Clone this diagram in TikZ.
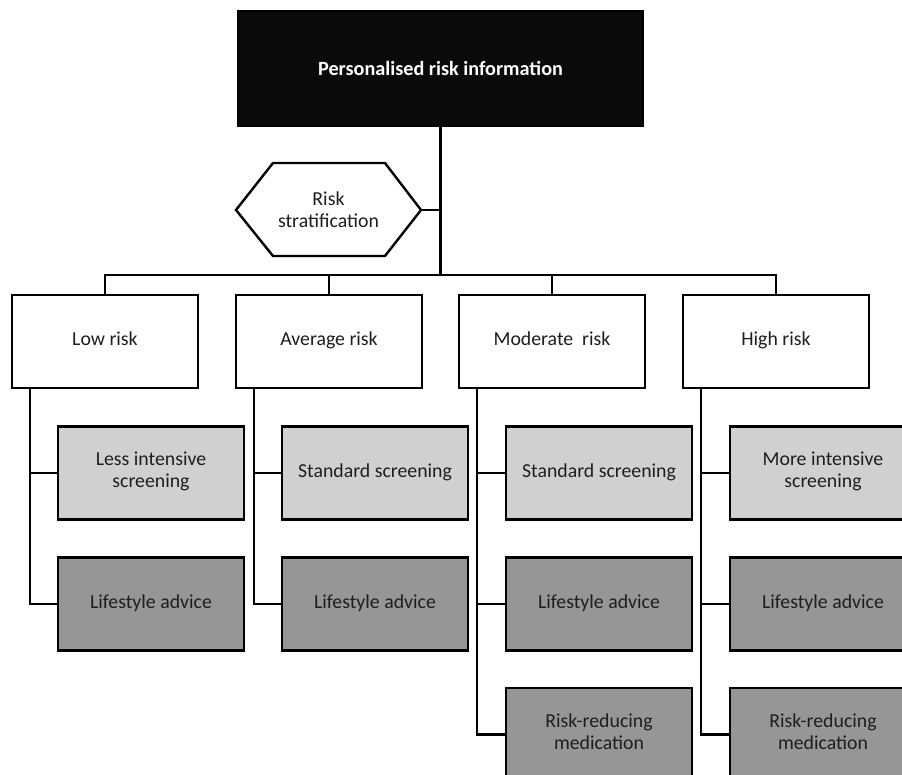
\documentclass[tikz,border=0pt]{standalone}
\usepackage{fontspec}
\setmainfont{Carlito}

\definecolor{infofill}{RGB}{10,10,10}
\definecolor{screenfill}{RGB}{208,208,208}
\definecolor{advicefill}{RGB}{150,150,150}
\definecolor{textgrey}{RGB}{30,30,30}

\begin{document}
\begin{tikzpicture}[x=1pt,y=1pt,yscale=-1,xscale=1,line width=2.4pt,
  font=\fontsize{19.8}{21.8}\selectfont,text=textgrey,
  riskbox/.style={draw=black,fill=white,minimum width=186pt,minimum height=93pt,inner sep=0pt,align=center,
    execute at begin node=\strut,execute at end node=\strut},
  screenbox/.style={riskbox,fill=screenfill},
  advicebox/.style={riskbox,fill=advicefill}]
\useasboundingbox (0,0) rectangle (902,775);
\clip (0,0) rectangle (902,775);

%Shape: Rectangle [top]
\node [draw=black,fill=infofill,minimum width=405pt,minimum height=115pt,text=white,font=\fontsize{20.2}{22}\selectfont\bfseries] (info) at (440.5,68.5) {Personalised risk information};

%Shape: Hexagon
\draw [fill=white] (236,210) -- (273,163) -- (385,163) -- (421,210) -- (385,256) -- (273,256) -- cycle ;
\coordinate (stratR) at (421,210);
% Text Node
\node [align=center] (strat) at (328.5,210) {Risk\\stratification};

%Straight Lines [spine]
\coordinate (bus) at (440.5,276);
\draw (info.south) -- (bus);
\draw (stratR) -- (stratR -| info.south);

%Shape: Rectangle [risk groups]
\node [riskbox] (low) at (105,341.5) {Low risk};
\node [riskbox] (avg) at (329,341.5) {Average risk};
\node [riskbox] (mod) at (552,341.5) {Moderate\ \ risk};
\node [riskbox] (high) at (776,341.5) {High risk};

%Straight Lines [bus]
\draw (low.north) -- ++(0,-19) -| (high.north);
\draw (avg.north) -- ++(0,-19);
\draw (mod.north) -- ++(0,-19);

%Shape: Rectangle [screening]
\node [screenbox] (lowscr) at (151,473) {Less intensive\\screening};
\node [screenbox] (avgscr) at (375,473) {Standard screening};
\node [screenbox] (modscr) at (599,473) {Standard screening};
\node [screenbox] (highscr) at (823,473) {More intensive\\screening};

%Shape: Rectangle [lifestyle]
\node [advicebox] (lowlife) at (151,604) {Lifestyle advice};
\node [advicebox] (avglife) at (375,604) {Lifestyle advice};
\node [advicebox] (modlife) at (599,604) {Lifestyle advice};
\node [advicebox] (highlife) at (823,604) {Lifestyle advice};

%Shape: Rectangle [medication]
\node [advicebox] (modmed) at (599,734.5) {Risk-reducing\\medication};
\node [advicebox] (highmed) at (823,734.5) {Risk-reducing\\medication};

%Straight Lines [branches]
\draw ([xshift=19pt]low.south west) |- (lowscr.west);
\draw ([xshift=19pt]low.south west) |- (lowlife.west);
\draw ([xshift=19pt]avg.south west) |- (avgscr.west);
\draw ([xshift=19pt]avg.south west) |- (avglife.west);
\draw ([xshift=19pt]mod.south west) |- (modscr.west);
\draw ([xshift=19pt]mod.south west) |- (modlife.west);
\draw ([xshift=19pt]mod.south west) |- (modmed.west);
\draw ([xshift=19pt]high.south west) |- (highscr.west);
\draw ([xshift=19pt]high.south west) |- (highlife.west);
\draw ([xshift=19pt]high.south west) |- (highmed.west);

\end{tikzpicture}
\end{document}
